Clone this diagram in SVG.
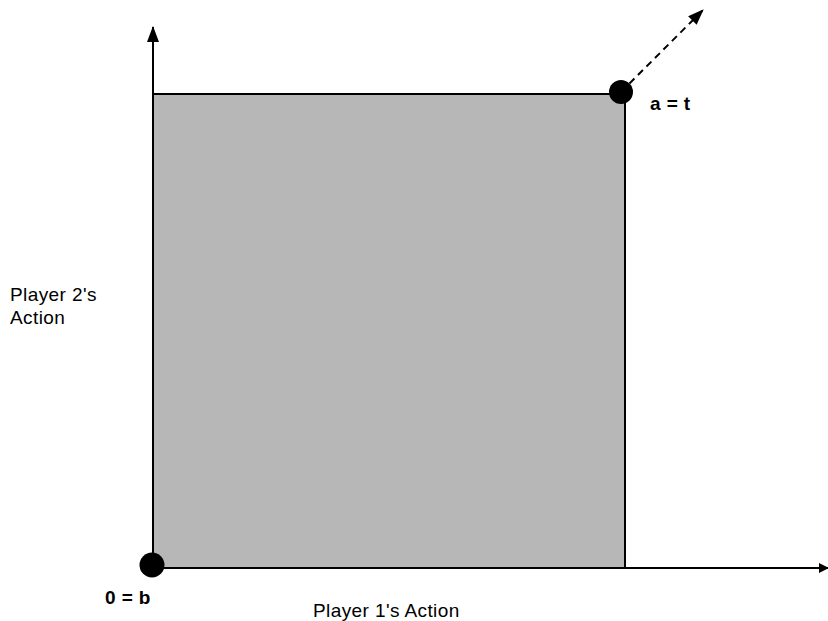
<svg xmlns="http://www.w3.org/2000/svg" width="828" height="621" viewBox="0 0 828 621">
<style>
.lbl{font-family:"Liberation Sans",Arial,sans-serif;font-size:19px;letter-spacing:0.4px;fill:#000}
.b{font-weight:bold}
.ax{stroke:#000;stroke-width:2;fill:none}
</style>
<defs>
<marker id="ah" markerWidth="10" markerHeight="10" refX="9" refY="5" orient="auto" markerUnits="userSpaceOnUse" viewBox="0 0 10 10">
<path d="M0,0 L10,5 L0,10 z" fill="#000"/>
</marker>
<marker id="ah2" markerWidth="16" markerHeight="12" refX="15" refY="6" orient="auto" markerUnits="userSpaceOnUse" viewBox="0 0 16 12">
<path d="M0,0 L16,6 L0,12 z" fill="#000"/>
</marker>
</defs>
<rect width="828" height="621" fill="#fff"/>
<g id="region">
<rect x="153" y="94" width="472" height="474" fill="#b7b7b7" stroke="#000" stroke-width="2"/>
</g>
<g id="connectors">
<line class="ax" x1="153" y1="568" x2="153" y2="27" marker-end="url(#ah2)"/>
<line class="ax" x1="153" y1="568" x2="828" y2="568" marker-end="url(#ah)"/>
<line class="ax" x1="621" y1="92" x2="703" y2="10" stroke-dasharray="7,5" marker-end="url(#ah2)"/>
</g>
<g id="point-b">
<circle cx="152" cy="565" r="12.5" fill="#000"/>
<text class="lbl b" x="105" y="604">0 = b</text>
</g>
<g id="point-t">
<circle cx="621" cy="92" r="12" fill="#000"/>
<text class="lbl b" x="650" y="110">a = t</text>
</g>
<g id="label-y">
<text class="lbl" x="10" y="301">Player 2's</text>
<text class="lbl" x="10" y="324">Action</text>
</g>
<g id="label-x">
<text class="lbl" x="313" y="617">Player 1's Action</text>
</g>
</svg>
